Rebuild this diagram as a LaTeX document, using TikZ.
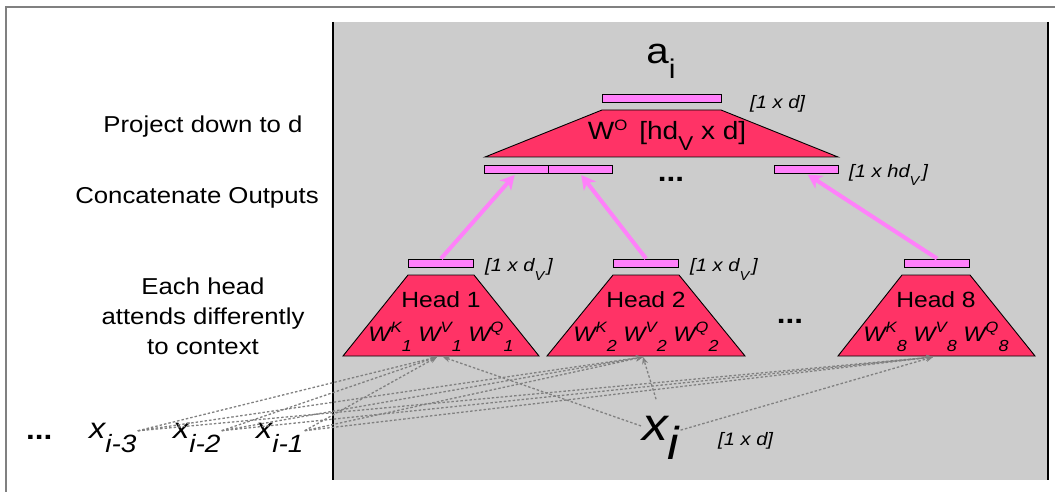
\documentclass[tikz,border=0pt]{standalone}
\usepackage{fontspec}
\setmainfont{Liberation Sans}[FakeStretch=1.12]
\usetikzlibrary{arrows.meta}
\definecolor{panelgray}{RGB}{204,204,204}
\definecolor{framegray}{RGB}{128,128,128}
\definecolor{headred}{RGB}{255,51,102}
\definecolor{vecpink}{RGB}{255,128,250}
\definecolor{dashgray}{RGB}{128,128,128}
\newcommand{\lowidx}[2]{\raisebox{-0.5em}{\fontsize{#1}{#1}\selectfont #2}}
\newcommand{\highidx}[2]{\raisebox{0.4em}{\fontsize{#1}{#1}\selectfont #2}}

\begin{document}
\begin{tikzpicture}[x=1pt, y=-1pt,
    bar/.style={draw=black, line width=0.9pt, fill=vecpink, minimum height=8pt, inner sep=0pt},
    headshape/.style={fill=headred, draw=black, line width=0.9pt},
    mainlbl/.style={font=\fontsize{23}{30}\selectfont, inner sep=0pt},
    dimlbl/.style={font=\fontsize{18}{20}\selectfont\itshape, inner sep=0pt, anchor=base west},
    inputlbl/.style={font=\fontsize{29}{29}\selectfont\itshape, inner sep=1pt, anchor=base west},
    dotlbl/.style={font=\fontsize{28}{28}\selectfont\bfseries, inner sep=0pt},
    feed/.style={draw=vecpink, line width=4pt, -{Stealth[length=14pt,width=15pt,inset=4pt]}, shorten >=2pt},
    attn/.style={draw=dashgray, line width=1.3pt, dash pattern=on 2.5pt off 2pt, -{Stealth[length=7pt,width=6pt]}}
]

\useasboundingbox (0,0) rectangle (1055,492);

% Frame and grey panel
\draw[framegray, line width=1.2pt] (6,492) -- (6,7) -- (1055,7);
\fill[panelgray] (333,22) rectangle (1048,480);
\draw[line width=2.5pt] (333,22) -- (333,480);
\draw[line width=2.5pt] (1048,22) -- (1048,480);

% Captions on the left
\node[mainlbl, anchor=base] (projcap) at (203,133) {Project down to d};
\node[mainlbl, anchor=base] (catcap) at (197,203) {Concatenate Outputs};
\node[mainlbl, align=center] (headcap) at (203,316) {Each head\\attends differently\\to context};

% 1. OUTPUT PROJECTION
\node[anchor=base, inner sep=0pt, font=\fontsize{36}{36}\selectfont] (ai) at (661,64) {a\raisebox{-15pt}{\fontsize{27}{27}\selectfont i}};
\node[bar, minimum width=119pt] (outbar) at (661.5,98) {};
\node[dimlbl] (outdim) at (750,109) {[1 x d]};
\filldraw[headshape] (602,110) -- (721,110) -- (838,157) -- (485,157) -- cycle;
\node[anchor=base, inner sep=0pt, font=\fontsize{25}{25}\selectfont] (wo) at (667,140) {W\highidx{15}{O}\hspace{12pt}[hd\raisebox{-11pt}{\fontsize{20}{20}\selectfont V} x d]};

% 2. CONCATENATED OUTPUTS
\node[bar, minimum width=64pt] (catbarA) at (516,169) {};
\node[bar, minimum width=64pt] (catbarB) at (580,169) {};
\node[bar, minimum width=64pt] (catbarH) at (806,169) {};
\node[dotlbl, anchor=base] (catdots) at (671,182) {...};
\node[dimlbl] (catdim) at (849,177) {[1 x hd\lowidx{13}{V}\,]};

% 3. HEADS
\node[bar, minimum width=65pt] (headbarA) at (441,263) {};
\filldraw[headshape] (408,275) -- (474,275) -- (539,356) -- (343,356) -- cycle;
\node[mainlbl, anchor=base, font=\fontsize{22}{22}\selectfont] (headA) at (441,307) {Head 1};
\node[anchor=base, inner sep=0pt, font=\fontsize{21}{21}\selectfont\itshape] (wA) at (441,341) {W\highidx{15}{K}\lowidx{16}{1} W\highidx{15}{V}\lowidx{16}{1} W\highidx{15}{Q}\lowidx{16}{1}};
\node[dimlbl] (dimA) at (485,271) {[1 x d\lowidx{13}{V}\,]};

\node[bar, minimum width=65pt] (headbarB) at (646,263) {};
\filldraw[headshape] (613,275) -- (679,275) -- (745,356) -- (547,356) -- cycle;
\node[mainlbl, anchor=base, font=\fontsize{22}{22}\selectfont] (headB) at (646,307) {Head 2};
\node[anchor=base, inner sep=0pt, font=\fontsize{21}{21}\selectfont\itshape] (wB) at (646,341) {W\highidx{15}{K}\lowidx{16}{2} W\highidx{15}{V}\lowidx{16}{2} W\highidx{15}{Q}\lowidx{16}{2}};
\node[dimlbl] (dimB) at (690,271) {[1 x d\lowidx{13}{V}\,]};

\node[dotlbl, anchor=base] (headdots) at (790,323) {...};

\node[bar, minimum width=65pt] (headbarH) at (937,263) {};
\filldraw[headshape] (902,275) -- (970,275) -- (1035,356) -- (838,356) -- cycle;
\node[mainlbl, anchor=base, font=\fontsize{22}{22}\selectfont] (headH) at (936,307) {Head 8};
\node[anchor=base, inner sep=0pt, font=\fontsize{21}{21}\selectfont\itshape] (wH) at (936,341) {W\highidx{15}{K}\lowidx{16}{8} W\highidx{15}{V}\lowidx{16}{8} W\highidx{15}{Q}\lowidx{16}{8}};

% 4. HEAD OUTPUTS INTO CONCATENATION
\draw[feed] (headbarA.north) -- (catbarA.south);
\draw[feed] (headbarB.north) -- (catbarB.south);
\draw[feed] (headbarH.north) -- (catbarH.south);

% 5. INPUTS
\node[dotlbl, anchor=base west] (xdots) at (26,439) {...};
\node[inputlbl] (xthree) at (88,438) {x\raisebox{-14pt}{\fontsize{25}{25}\selectfont i-3}};
\node[inputlbl] (xtwo) at (172,438) {x\raisebox{-14pt}{\fontsize{25}{25}\selectfont i-2}};
\node[inputlbl] (xone) at (255,438) {x\raisebox{-14pt}{\fontsize{25}{25}\selectfont i-1}};
\node[inputlbl, font=\fontsize{46}{46}\selectfont\itshape] (xcur) at (641,440) {x\raisebox{-19pt}{i}};
\node[dimlbl] (xdim) at (718,445) {[1 x d]};

% 6. ATTENTION TO CONTEXT
\coordinate (headinA) at (437,357);
\coordinate (headinB) at (643,357);
\coordinate (headinH) at (933,357);

\draw[attn] (xthree.15) -- (headinA);
\draw[attn] (xthree.15) -- (headinB);
\draw[attn] (xthree.15) -- (headinH);
\draw[attn] (xtwo.15) -- (headinA);
\draw[attn] (xtwo.15) -- (headinB);
\draw[attn] (xtwo.15) -- (headinH);
\draw[attn] (xone.15) -- (headinA);
\draw[attn] (xone.15) -- (headinB);
\draw[attn] (xone.15) -- (headinH);
\draw[attn] (xcur.150) -- ([xshift=6pt]headinA);
\draw[attn, shorten <=16pt] (xcur.north) -- (headinB);
\draw[attn] (xcur.20) -- (headinH);

\end{tikzpicture}
\end{document}
